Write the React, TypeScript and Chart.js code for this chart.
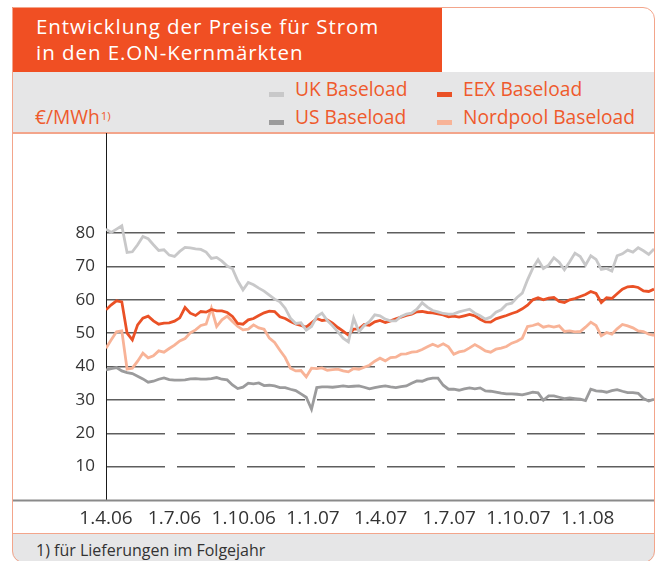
import React, { useEffect, useRef } from "react";
import { Chart, registerables } from "chart.js";

Chart.register(...registerables);

const FONT = '"Open Sans", "Noto Sans", sans-serif';

// Quarter start tick positions (days since 1.4.06) and labels
const quarterTickDays = [0, 91, 183, 275, 365, 456, 548, 640];
const quarterTickLabels = ["1.4.06", "1.7.06", "1.10.06", "1.1.07", "1.4.07", "1.7.07", "1.10.07", "1.1.08"];
const yTickValues = [10, 20, 30, 40, 50, 60, 70, 80];

// Weekly samples, 1.4.06 – end of March 2008 (€/MWh)
const ukBaseload = [
  81.2, 80.2, 81.2, 82.2, 74.2, 74.4, 76.5, 79, 78.3, 76.5,
  74.8, 75, 73.4, 73, 74.5, 75.7, 75.6, 75.3, 75.1, 74.3,
  72.4, 72.7, 71.6, 70.1, 69.3, 65.7, 63, 65.2, 64.5, 63.5,
  62.6, 61.4, 60.2, 59.4, 57.5, 54.5, 52.9, 53.1, 50.9, 52,
  55, 56, 53.8, 52.2, 50.4, 48.5, 47.4, 54.5, 50.4, 52.3,
  53.5, 55.5, 55.2, 54.2, 53.7, 53.7, 55, 55.7, 56, 57.2,
  59.1, 57.8, 56.8, 56.4, 55.9, 55.7, 55.8, 56.4, 56.8, 57.2,
  56, 55.2, 54.2, 54.8, 56.3, 57, 58.6, 59, 60.7, 62,
  66, 69.5, 72, 69.4, 70.4, 72.6, 71.3, 69, 71.4, 74,
  73, 70.4, 73.2, 72.1, 69.1, 69.4, 68.6, 73.2, 73.8, 74.9,
  74.3, 75.6, 74.7, 73.6, 75.2,
];

const eexBaseload = [
  57, 58.5, 59.7, 59.4, 50, 48, 52.5, 54.5, 55.1, 53.7,
  52.7, 53, 53.1, 53.6, 54.6, 57.7, 56, 55.3, 56.5, 56.3,
  57.1, 56.7, 56.7, 56.2, 55, 52.9, 52.7, 54, 54.4, 55.3,
  56.1, 56.6, 56.5, 54.9, 54.4, 53.5, 52.8, 52.3, 51.8, 53.1,
  54.4, 53.8, 54, 53, 51.7, 50.6, 49.4, 51.2, 51.3, 52.6,
  52.4, 53.4, 53.8, 53.2, 53.7, 54.3, 54.8, 55.3, 55.7, 56.4,
  56.5, 56.2, 56.1, 55.8, 55.5, 54.9, 55.1, 54.8, 55.2, 55.6,
  55.2, 54.2, 53.4, 53.3, 54.3, 54.8, 55.3, 55.9, 56.4, 57.3,
  58.4, 60, 60.6, 60, 60.5, 60.7, 59.5, 59.2, 60, 60.4,
  61, 61.6, 62.5, 61.9, 59.2, 60.6, 60.4, 61.8, 63.2, 63.9,
  64, 63.7, 62.7, 62.5, 63.2,
];

const usBaseload = [
  39, 39.4, 39.7, 38.7, 38.2, 37.9, 37.1, 36.3, 35.3, 35.6,
  36.2, 36.6, 36.1, 35.9, 35.9, 36, 36.3, 36.4, 36.2, 36.2,
  36.4, 36.7, 36.2, 36, 34.5, 33.4, 33.8, 35, 34.8, 35.1,
  34.3, 34.4, 34.2, 33.7, 33.7, 33.2, 32.8, 31.8, 30.8, 27.2,
  33.7, 33.9, 33.9, 33.8, 34, 34.2, 34, 34.1, 34.2, 33.8,
  33.3, 33.7, 34, 34.2, 33.9, 33.7, 34, 34.2, 35, 35.7,
  35.6, 36.2, 36.5, 36.5, 34.4, 33.2, 33.2, 32.9, 33.3, 33.6,
  33.3, 33.6, 32.7, 32.6, 32.3, 32, 31.8, 31.8, 31.7, 31.5,
  31.9, 32.3, 32.1, 29.9, 31.2, 31.2, 30.8, 30.4, 30.6, 30.4,
  30.2, 29.8, 33.2, 32.7, 32.6, 32.3, 32.8, 33.1, 32.6, 32.2,
  32.2, 32, 30.4, 29.7, 30.2,
];

const nordpoolBaseload = [
  45.5, 48, 50.4, 50.7, 39.2, 39.5, 41.6, 44, 42.6, 43.2,
  44.7, 44.3, 45.4, 46.4, 47.7, 48.4, 50.1, 51, 52.3, 52.7,
  57.5, 52, 54, 55.1, 53.5, 52, 51, 51.2, 52.5, 51.6,
  51.2, 48.5, 47.2, 44.9, 42.7, 39.5, 38.7, 38.8, 36.9, 39.5,
  39.4, 39.6, 38.9, 39.1, 39.2, 38.7, 38.4, 39.4, 39.2, 39.8,
  40.4, 41.6, 42.5, 41.7, 42.7, 42.8, 43.7, 43.8, 44.3, 44.5,
  45.1, 45.9, 46.7, 46, 46.8, 45.9, 43.7, 44.4, 44.7, 45.6,
  46.6, 45.7, 44.7, 44.3, 45.2, 45.5, 46, 47, 47.6, 48.5,
  52, 52.3, 52.8, 51.8, 52.2, 51.8, 52.2, 50.5, 50.7, 50.4,
  50.5, 51.8, 53.3, 52.3, 49.2, 50.2, 49.7, 51.3, 52.6, 52.2,
  51.6, 50.7, 50.5, 49.7, 49.3,
];

const seriesNames = ["UK Baseload", "EEX Baseload", "US Baseload", "Nordpool Baseload"];
const seriesColors = ["#c8c8c9", "#ea5126", "#9b9b9c", "#f8b397"];

const ORANGE = "#f04f23";
const LEGEND_ORANGE = "#ef5a2c";
const BORDER = "#f3a58b";
const BAND = "#e6e6e7";

const axisLinePlugin = {
  id: "fullWidthAxisLine",
  afterDraw(chart: any) {
    const { ctx, chartArea, width } = chart;
    ctx.save();
    ctx.strokeStyle = "#8a8a8a";
    ctx.lineWidth = 2;
    ctx.beginPath();
    ctx.moveTo(0, chartArea.bottom + 0.5);
    ctx.lineTo(width, chartArea.bottom + 0.5);
    ctx.stroke();
    ctx.restore();
  },
};

function toPoints(values: number[]) {
  return values.map((v, i) => ({ x: i * 7, y: v }));
}

export default function App() {
  const canvasRef = useRef<HTMLCanvasElement | null>(null);

  useEffect(() => {
    const series = [ukBaseload, eexBaseload, usBaseload, nordpoolBaseload];
    const chart = new Chart(canvasRef.current as HTMLCanvasElement, {
      type: "line",
      data: {
        datasets: series.map((vals, i) => ({
          label: seriesNames[i],
          data: toPoints(vals),
          borderColor: seriesColors[i],
          backgroundColor: seriesColors[i],
          borderWidth: 2.8,
          pointRadius: 0,
          tension: 0,
        })),
      },
      options: {
        responsive: false,
        maintainAspectRatio: false,
        animation: false,
        layout: { padding: 0 },
        plugins: { legend: { display: false }, tooltip: { enabled: false } },
        scales: {
          x: {
            type: "linear",
            min: 0,
            max: 728,
            grid: { display: false, drawTicks: false },
            border: { display: false },
            afterBuildTicks: (scale: any) => {
              scale.ticks = quarterTickDays.map((v) => ({ value: v }));
            },
            afterFit: (scale: any) => {
              scale.height = 33;
              scale.paddingLeft = 0;
              scale.paddingRight = 0;
            },
            ticks: {
              autoSkip: false,
              maxRotation: 0,
              padding: 7,
              color: "#333",
              font: { family: FONT, size: 19 },
              callback: (v: any) => {
                const idx = quarterTickDays.indexOf(Number(v));
                return idx >= 0 ? quarterTickLabels[idx] : null;
              },
            },
          },
          y: {
            min: 0,
            max: 110,
            afterBuildTicks: (scale: any) => {
              const t: any[] = [];
              for (let v = 0; v <= 110; v += 10) t.push({ value: v });
              scale.ticks = t;
            },
            afterFit: (scale: any) => {
              scale.width = 94;
              scale.paddingTop = 0;
              scale.paddingBottom = 0;
            },
            grid: {
              drawTicks: false,
              tickLength: 0,
              lineWidth: 1.5,
              color: (ctx: any) => (yTickValues.includes(ctx.tick?.value) ? "#5e5e5e" : "rgba(0,0,0,0)"),
            },
            border: { display: true, color: "#1a1a1a", width: 1, dash: [58, 12] },
            ticks: {
              padding: 11,
              color: "#333",
              font: { family: FONT, size: 17 },
              callback: (v: any) => (yTickValues.includes(Number(v)) ? String(v) : null),
            },
          },
        },
      },
      plugins: [axisLinePlugin],
    });
    return () => chart.destroy();
  }, []);

  const legendRow = (name: string, color: string, left: number, top: number) => (
    <div key={name} style={{ position: "absolute", left, top, height: 26, display: "flex", alignItems: "center" }}>
      <div style={{ width: 15, height: 5, background: color, marginTop: 10, marginRight: 11 }} />
      <span style={{ color: LEGEND_ORANGE, fontSize: 19.2, lineHeight: "26px", whiteSpace: "nowrap" }}>{name}</span>
    </div>
  );

  return (
    <div style={{ position: "absolute", left: 0, top: 0, width: 657, height: 561, overflow: "hidden", background: "#fff", fontFamily: FONT }}>
      <div
        style={{
          position: "absolute",
          left: 12,
          top: 7,
          width: 643,
          height: 556,
          overflow: "hidden",
          borderRadius: "0 12px 12px 12px",
          background: "#fff",
        }}
      >
        <div style={{ position: "absolute", left: 0, top: 0, width: 430, height: 65, background: ORANGE }} />
        <div
          style={{
            position: "absolute",
            left: 24,
            top: 7,
            color: "#fff",
            fontSize: 20.5,
            letterSpacing: "0.95px",
            lineHeight: "25.5px",
            whiteSpace: "nowrap",
          }}
        >
          Entwicklung der Preise für Strom
          <br />
          in den E.ON-Kernmärkten
        </div>
        <div style={{ position: "absolute", left: 0, top: 65, width: 643, height: 60, background: BAND }} />
        <div style={{ position: "absolute", left: 0, top: 125, width: 643, height: 1.5, background: BORDER }} />
        {legendRow(seriesNames[0], seriesColors[0], 257, 69)}
        {legendRow(seriesNames[1], seriesColors[1], 425, 69)}
        {legendRow(seriesNames[2], seriesColors[2], 257, 97)}
        {legendRow(seriesNames[3], seriesColors[3], 425, 97)}
        <div style={{ position: "absolute", left: 23, top: 97, color: LEGEND_ORANGE, fontSize: 19.2, lineHeight: "26px", whiteSpace: "nowrap" }}>
          €/MWh<sup style={{ fontSize: 11.5, verticalAlign: "top", position: "relative", top: -1, marginLeft: 1 }}>1)</sup>
        </div>
        <div style={{ position: "absolute", left: 0, top: 126, width: 642, height: 400 }}>
          <canvas ref={canvasRef} width={642} height={400} style={{ display: "block", width: 642, height: 400 }} />
        </div>
        <div
          style={{
            position: "absolute",
            left: 0,
            top: 526,
            width: 643,
            height: 40,
            background: BAND,
            borderTop: `1.5px solid ${BORDER}`,
          }}
        />
        <div style={{ position: "absolute", left: 24, top: 533, color: "#333", fontSize: 16, lineHeight: "20px", whiteSpace: "nowrap" }}>
          1) für Lieferungen im Folgejahr
        </div>
      </div>
      <div
        style={{
          position: "absolute",
          left: 12,
          top: 7,
          width: 643,
          height: 556,
          boxSizing: "border-box",
          border: `1.5px solid ${BORDER}`,
          borderRadius: "0 12px 12px 12px",
          pointerEvents: "none",
        }}
      />
    </div>
  );
}
